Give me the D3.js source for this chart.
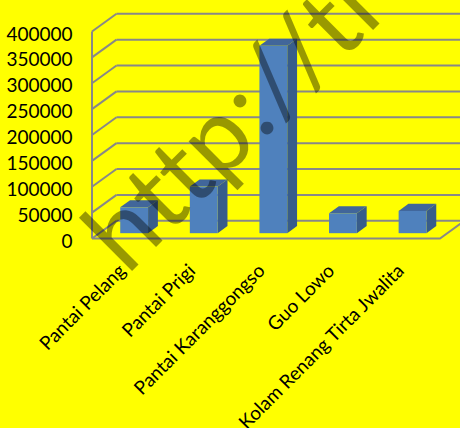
<!DOCTYPE html>
<html>
<head>
<meta charset="utf-8">
<script src="https://cdn.jsdelivr.net/npm/d3@7"></script>
<style>
  html, body { margin: 0; padding: 0; background: #ffff00; }
  svg { display: block; }
</style>
</head>
<body>
<svg id="chart" width="460" height="428"></svg>
<script>
// Visitor counts per tourist spot
const categories = ["Pantai Pelang", "Pantai Prigi", "Pantai Karanggongso", "Guo Lowo", "Kolam Renang Tirta Jwalita"];
const visitors = [50000, 90000, 362000, 38500, 43000];
const yTicks = [0, 50000, 100000, 150000, 200000, 250000, 300000, 350000, 400000];
const watermarkText = "http://tro";

const W = 460, H = 428;
const svg = d3.select("#chart");

svg.append("rect").attr("width", W).attr("height", H).attr("fill", "#ffff00");

// front plane of the 3D box
const left = 92, right = 440;
const depth = { dx: 24.5, dy: -17.7 };
const y = d3.scaleLinear().domain([0, 400000]).range([238.5, 31.5]);
const x = d3.scaleBand().domain(categories).range([left, right])
  .paddingInner(0.6).paddingOuter(0.3);
const zFront = 0.3, zBack = 0.7;

const gridColor = "#888888";
const grid = svg.append("g").attr("stroke", gridColor).attr("stroke-width", 2).attr("fill", "none");

// back wall gridlines
grid.selectAll("line.back").data(yTicks).join("line")
  .attr("class", "back")
  .attr("x1", left + depth.dx).attr("x2", W + 10)
  .attr("y1", d => y(d) + depth.dy).attr("y2", d => y(d) + depth.dy);

// side wall gridlines
grid.selectAll("line.side").data(yTicks).join("line")
  .attr("class", "side")
  .attr("x1", left).attr("y1", d => y(d))
  .attr("x2", left + depth.dx).attr("y2", d => y(d) + depth.dy);

// side wall front edge
grid.append("line")
  .attr("x1", left).attr("x2", left)
  .attr("y1", y(400000)).attr("y2", y(0));

// floor edges
grid.append("path")
  .attr("d", `M${left},${y(0)}L${right},${y(0)}L${right + depth.dx},${y(0) + depth.dy}`);

// 3D columns
const bars = svg.append("g");
categories.forEach((c, i) => {
  const v = visitors[i];
  const bx = x(c) + zFront * depth.dx;
  const by0 = y(0) + zFront * depth.dy;
  const byT = y(v) + zFront * depth.dy;
  const bw = x.bandwidth();
  const ox = (zBack - zFront) * depth.dx, oy = (zBack - zFront) * depth.dy;
  const g = bars.append("g");
  // right side face
  g.append("path")
    .attr("d", `M${bx + bw},${by0}L${bx + bw + ox},${by0 + oy}L${bx + bw + ox},${byT + oy}L${bx + bw},${byT}Z`)
    .attr("fill", "#385d8a");
  // top face
  g.append("path")
    .attr("d", `M${bx},${byT}L${bx + ox},${byT + oy}L${bx + bw + ox},${byT + oy}L${bx + bw},${byT}Z`)
    .attr("fill", "#41669a");
  // front face
  g.append("rect")
    .attr("x", bx).attr("y", byT).attr("width", bw).attr("height", by0 - byT)
    .attr("fill", "#4f81bd");
});

// value axis labels
svg.append("g").selectAll("text").data(yTicks).join("text")
  .attr("x", 72.5).attr("y", d => y(d) + 1.5)
  .attr("text-anchor", "end").attr("dominant-baseline", "central")
  .attr("font-family", "Lato, 'Open Sans', sans-serif").attr("font-size", 19)
  .attr("fill", "#000")
  .text(d => d);

// category labels, rotated
svg.append("g").selectAll("text").data(categories).join("text")
  .attr("transform", d => `translate(${x(d) + x.bandwidth() / 2},${272}) rotate(-45)`)
  .attr("text-anchor", "end")
  .attr("font-family", "Lato, 'Open Sans', sans-serif").attr("font-size", 19)
  .attr("fill", "#000")
  .text(d => d);

// watermark: glyphs spaced with narrow humanist advances (em units)
const advance = { h: 0.525, t: 0.335, p: 0.525, ":": 0.268, "/": 0.386, r: 0.349, o: 0.527 };
const wmSize = 110;
const chars = Array.from(watermarkText);
let acc = 0;
const centers = chars.map(ch => {
  const w = (advance[ch] || 0.5) * wmSize;
  const c = acc + w / 2;
  acc += w;
  return c;
});
const colonAt = centers[chars.indexOf(":")];
const wm = svg.append("text")
  .attr("transform", "translate(271,132) rotate(-45)")
  .attr("font-family", "Lato, 'Open Sans', sans-serif").attr("font-size", 102)
  .attr("fill", "#000").attr("fill-opacity", 0.4)
  .attr("text-anchor", "middle");
wm.selectAll("tspan").data(chars).join("tspan")
  .attr("x", (d, i) => centers[i] - colonAt).attr("y", 0)
  .text(d => d);
</script>
</body>
</html>
